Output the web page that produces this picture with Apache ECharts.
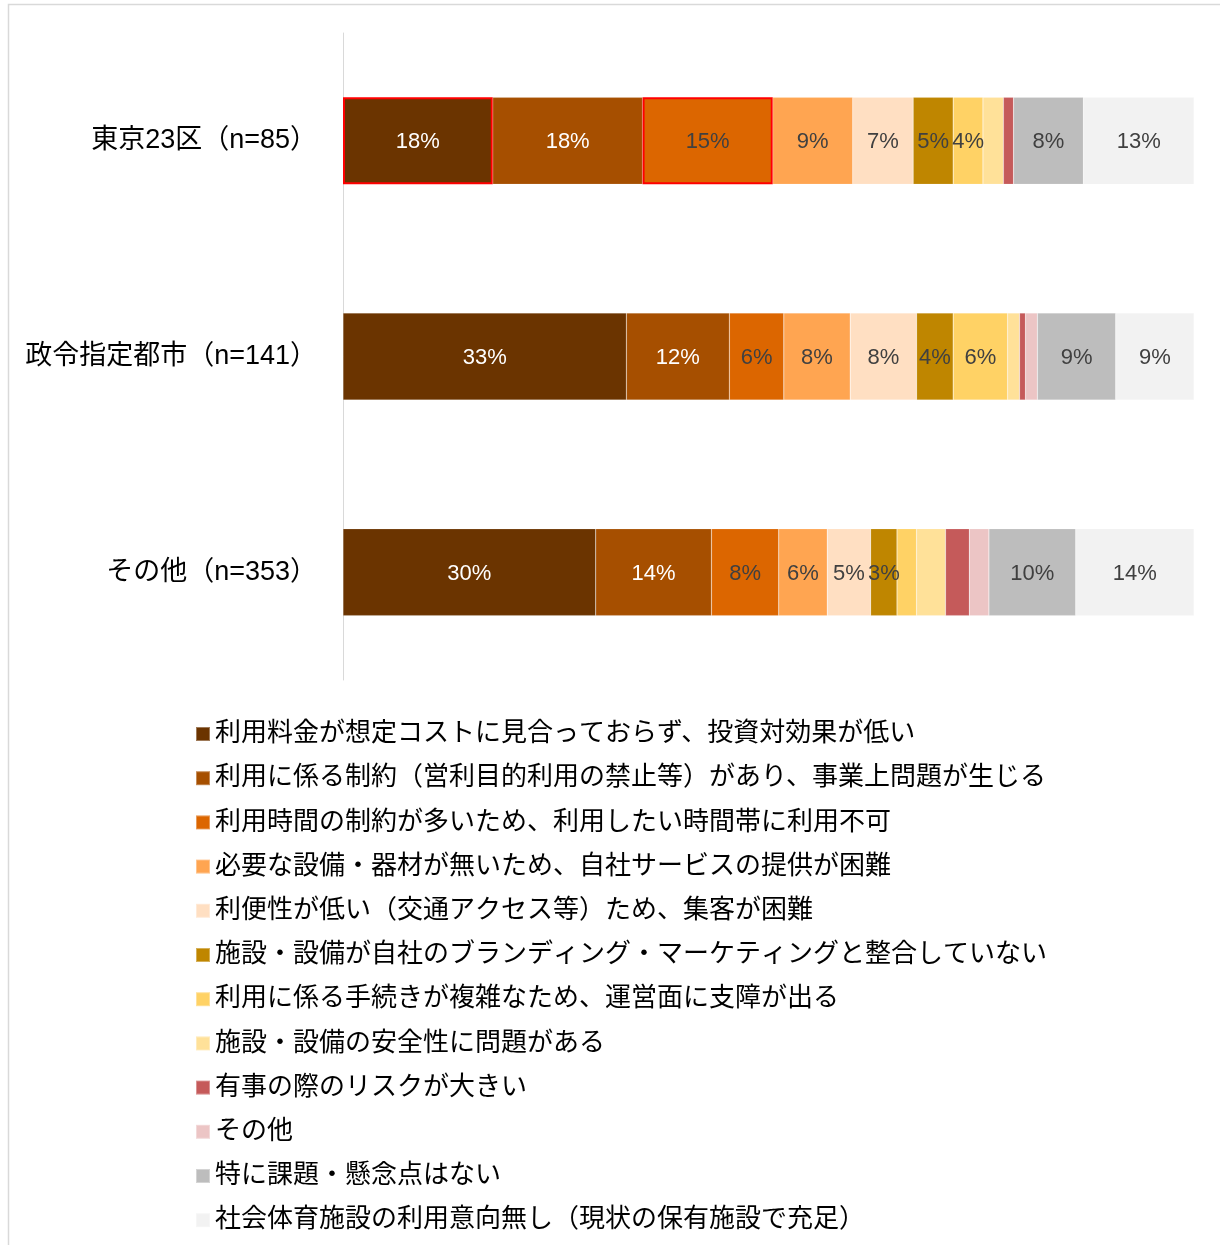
<!DOCTYPE html>
<html>
<head>
<meta charset="utf-8">
<script src="https://cdn.jsdelivr.net/npm/echarts@6/dist/echarts.min.js"></script>
<style>
  html, body { margin: 0; padding: 0; background: #ffffff; }
  #chart { width: 1220px; height: 1245px; }
</style>
</head>
<body>
<div id="chart"></div>
<script>
// Region groups (rows, top to bottom)
const categories = ['東京23区（n=85）', '政令指定都市（n=141）', 'その他（n=353）'];

// Share of respondents (%) per concern, one value per region
const costMismatch      = [17.6, 33.3, 29.7];
const usageRestriction  = [17.6, 12.1, 13.6];
const timeLimits        = [15.3,  6.4,  7.9];
const noEquipment       = [ 9.4,  7.8,  5.7];
const poorAccess        = [ 7.1,  7.8,  5.1];
const brandMismatch     = [ 4.7,  4.3,  3.1];
const complexProcedure  = [ 3.5,  6.4,  2.3];
const safetyConcern     = [ 2.4,  1.4,  3.4];
const emergencyRisk     = [ 1.2,  0.7,  2.8];
const otherConcern      = [ 0.0,  1.4,  2.3];
const noIssues          = [ 8.2,  9.2, 10.2];
const noIntent          = [13.0,  9.2, 13.9];

const seriesNames = [
  '利用料金が想定コストに見合っておらず、投資対効果が低い',
  '利用に係る制約（営利目的利用の禁止等）があり、事業上問題が生じる',
  '利用時間の制約が多いため、利用したい時間帯に利用不可',
  '必要な設備・器材が無いため、自社サービスの提供が困難',
  '利便性が低い（交通アクセス等）ため、集客が困難',
  '施設・設備が自社のブランディング・マーケティングと整合していない',
  '利用に係る手続きが複雑なため、運営面に支障が出る',
  '施設・設備の安全性に問題がある',
  '有事の際のリスクが大きい',
  'その他',
  '特に課題・懸念点はない',
  '社会体育施設の利用意向無し（現状の保有施設で充足）'
];
const seriesValues = [
  costMismatch, usageRestriction, timeLimits, noEquipment, poorAccess, brandMismatch,
  complexProcedure, safetyConcern, emergencyRisk, otherConcern, noIssues, noIntent
];

const palette = [
  '#6B3400', '#A64F00', '#DC6600', '#FFA551', '#FFDFC2', '#BF8600',
  '#FFD265', '#FFE199', '#C55A5A', '#ECC5C5', '#BDBDBD', '#F2F2F2'
];
// Series whose segments carry percentage labels
const labelled = [true, true, true, true, true, true, true, false, false, false, true, true];
// Segments outlined in red: [series index, row index]
const outlined = [[0, 0], [2, 0]];

const FONT = "'Liberation Sans', 'Noto Sans CJK JP', sans-serif";

const series = seriesValues.map((vals, si) => ({
  name: seriesNames[si],
  type: 'bar',
  stack: 'total',
  barWidth: 87,
  itemStyle: {
    color: palette[si],
    borderColor: 'rgba(255,255,255,0.35)',
    borderWidth: 0.5
  },
  label: {
    show: labelled[si],
    position: 'inside',
    offset: [0, 1.5],
    fontFamily: FONT,
    fontSize: 22,
    color: si < 2 ? '#FFFFFF' : '#404040',
    formatter: p => (p.value >= 3 ? Math.round(p.value) + '%' : '')
  },
  data: vals.map((v, ci) => {
    const isOutlined = outlined.some(o => o[0] === si && o[1] === ci);
    return isOutlined
      ? { value: v, itemStyle: { borderColor: '#FF0000', borderWidth: 2 } }
      : v;
  })
}));

const chart = echarts.init(document.getElementById('chart'));
chart.setOption({
  animation: false,
  backgroundColor: '#FFFFFF',
  color: palette,
  grid: { left: 343, right: 26, top: 33, bottom: 565 },
  xAxis: { type: 'value', min: 0, max: 100, show: false },
  yAxis: {
    type: 'category',
    inverse: true,
    data: categories,
    axisLine: { show: true, lineStyle: { color: '#D9D9D9', width: 1 } },
    axisTick: { show: false },
    axisLabel: {
      fontFamily: FONT, fontSize: 27, color: '#000000', margin: 26,
      padding: [6, 0, 0, 0]
    }
  },
  legend: {
    orient: 'vertical',
    left: 195,
    top: 721,
    padding: 0,
    itemWidth: 14,
    itemHeight: 14,
    itemGap: 18.2,
    icon: 'rect',
    data: seriesNames,
    textStyle: { fontFamily: FONT, fontSize: 26, lineHeight: 26, color: '#000000' }
  },
  graphic: [{
    type: 'rect',
    silent: true,
    shape: { x: 8.5, y: 4.5, width: 1240, height: 1260 },
    style: { fill: 'none', stroke: '#D9D9D9', lineWidth: 1.5 }
  }],
  series: series
});
</script>
</body>
</html>
